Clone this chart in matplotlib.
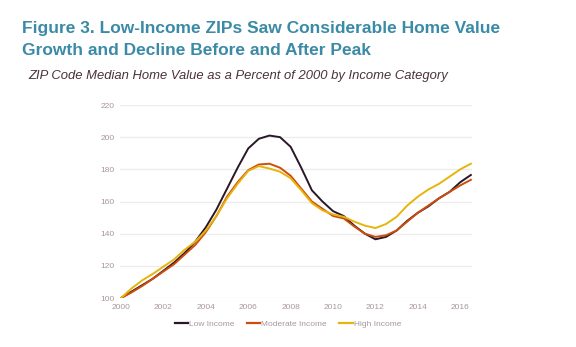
import matplotlib.pyplot as plt
import numpy as np

# datos (cada medio anio)
years = np.arange(2000, 2016.51, 0.5)

low_income = [100, 104, 108, 112, 117, 122, 128, 135, 144, 155, 168, 181,
              193, 199, 201, 200, 194, 181, 167, 160, 154, 151, 145, 140,
              136.5, 138, 142, 148, 153, 157, 162, 166, 172, 176.5]
moderate_income = [100, 103.5, 107.5, 112, 116.5, 121, 127, 133, 141, 151, 163, 172,
                   179.5, 183, 183.5, 181, 176, 168, 160, 155.5, 151, 149.5, 144.5, 140,
                   138, 139, 142, 147.5, 153, 157.5, 162, 166, 170, 173.5]
high_income = [100, 106, 111, 115, 119.5, 124, 130, 135, 142, 151, 162, 171,
               179, 182, 180.5, 178.5, 174.5, 167, 159, 154.5, 152, 150.5, 147.5, 145,
               143.5, 146, 150.5, 157.5, 163, 167.5, 171, 175.5, 180, 183.5]

series = [("Low Income", low_income, "#2a1727"),
          ("Moderate Income", moderate_income, "#cf4d0c"),
          ("High Income", high_income, "#e6b50c")]

xticks = list(range(2000, 2017, 2))
yticks = list(range(100, 221, 20))

fig = plt.figure(figsize=(5.76, 3.47), dpi=100)
fig.patch.set_facecolor("white")

# titulo y subtitulo
fig.text(0.038, 0.905, "Figure 3. Low-Income ZIPs Saw Considerable Home Value",
         fontsize=12.5, fontweight="bold", color="#3b8aa6", family="Liberation Sans")
fig.text(0.038, 0.842, "Growth and Decline Before and After Peak",
         fontsize=12.5, fontweight="bold", color="#3b8aa6", family="Liberation Sans")
fig.text(0.049, 0.772, "ZIP Code Median Home Value as a Percent of 2000 by Income Category",
         fontsize=9.4, style="italic", color="#4a3238", family="Liberation Sans")

ax = fig.add_axes([0.2083, 0.1412, 0.611, 0.5562])
for name, vals, col in series:
    ax.plot(years, vals, color=col, linewidth=1.4, label=name)

ax.set_xlim(1999.95, 2016.55)
ax.set_ylim(100, 220)
ax.set_xticks(xticks)
ax.set_yticks(yticks)
ax.grid(axis="y", color="#ececec", linewidth=1)
ax.set_axisbelow(True)
for s in ax.spines.values():
    s.set_visible(False)
ax.tick_params(length=0, labelsize=6, labelcolor="#a8969a", pad=4)
for lbl in ax.get_xticklabels() + ax.get_yticklabels():
    lbl.set_family("Liberation Sans")

leg = fig.legend(loc="center", bbox_to_anchor=(0.5, 0.066), ncol=3, frameon=False,
                 handlelength=1.6, handletextpad=0.1, columnspacing=1.5,
                 prop={"family": "Liberation Sans", "size": 6})
for t in leg.get_texts():
    t.set_color("#a8969a")
for h in leg.get_lines():
    h.set_linewidth(1.6)

fig.savefig("out.png", dpi=100)
